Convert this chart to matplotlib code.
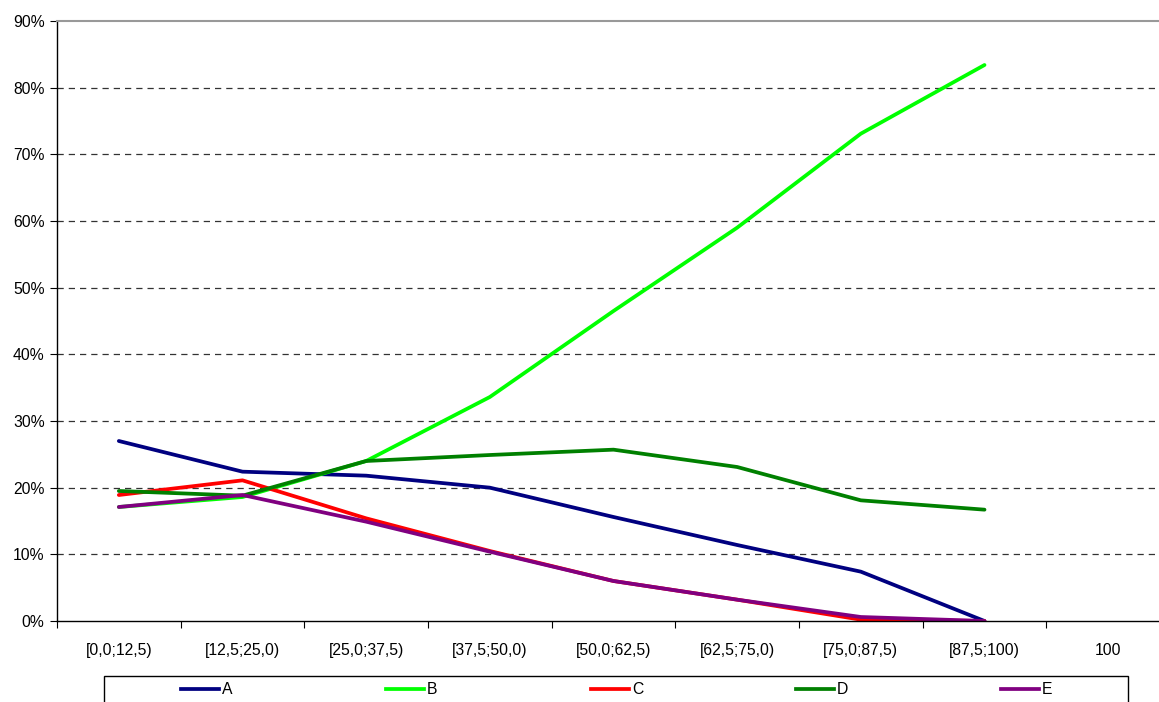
import matplotlib.pyplot as plt
import numpy as np
from matplotlib.lines import Line2D
from matplotlib.patches import Rectangle

plt.rcParams['font.family'] = ['Liberation Sans', 'DejaVu Sans']

categories = ["[0,0;12,5)", "[12,5;25,0)", "[25,0;37,5)", "[37,5;50,0)", "[50,0;62,5)",
              "[62,5;75,0)", "[75,0;87,5)", "[87,5;100)", "100"]
nan = np.nan
series_names = ["A", "B", "C", "D", "E"]
series_a = [27.0, 22.4, 21.8, 20.0, 15.6, 11.4, 7.4, 0.0, nan]
series_b = [17.1, 18.6, 24.0, 33.6, 46.5, 59.0, 73.1, 83.4, nan]
series_c = [18.9, 21.1, 15.4, 10.5, 6.0, 3.2, 0.2, 0.0, nan]
series_d = [19.5, 18.8, 24.0, 24.9, 25.7, 23.1, 18.1, 16.7, nan]
series_e = [17.1, 18.9, 14.9, 10.4, 6.0, 3.2, 0.6, 0.0, nan]
colors = ["#000080", "#00FF00", "#FF0000", "#008000", "#800080"]
yticks = [0, 10, 20, 30, 40, 50, 60, 70, 80, 90]

fs = 11.3
lw = 2.7

fig = plt.figure(figsize=(11.59, 7.02), dpi=100)
ax = fig.add_axes([57 / 1159, 1 - 621 / 702, (1170 - 57) / 1159, 600 / 702])

x = np.arange(len(categories))
all_series = [series_a, series_b, series_c, series_d, series_e]
for name, vals, col in zip(series_names, all_series, colors):
    ax.plot(x, vals, color=col, linewidth=lw, label=name, solid_capstyle='round')

ax.set_xlim(-0.5, len(categories) - 0.5)
ax.set_ylim(0, 90)

# grid lines (dashed), top one solid
for v in yticks[1:-1]:
    ax.axhline(v, color='#333333', linestyle=(0, (5, 4)), linewidth=0.9, zorder=0)
ax.spines['top'].set_color('#999999')
ax.spines['top'].set_linewidth(1.5)
ax.spines['right'].set_visible(False)
ax.spines['left'].set_linewidth(1.0)
ax.spines['bottom'].set_linewidth(1.0)

ax.set_yticks(yticks)
ax.set_yticklabels([f"{v}%" for v in yticks], fontsize=fs)
ax.tick_params(axis='y', direction='out', length=5, width=0.8, pad=4)

# category labels between boundary ticks
ax.set_xticks(np.arange(len(categories) + 1) - 0.5)
ax.set_xticklabels([])
ax.set_xticks(x, minor=True)
ax.set_xticklabels(categories, minor=True, fontsize=fs)
ax.tick_params(axis='x', which='major', direction='out', length=5, width=0.8)
ax.tick_params(axis='x', which='minor', length=0, pad=16)

# legend box at the bottom (cut off by the figure edge)
fig.add_artist(Rectangle((104 / 1159, -0.05), (1128 - 104) / 1159, 0.05 + (702 - 676) / 702,
                         transform=fig.transFigure, fill=False, edgecolor='black', linewidth=1.0))
ly = 1 - 689 / 702
for i, (name, col) in enumerate(zip(series_names, colors)):
    x0 = 181 + i * 205
    fig.add_artist(Line2D([x0 / 1159, (x0 + 38) / 1159], [ly, ly], transform=fig.transFigure,
                          color=col, linewidth=lw))
    fig.text((x0 + 41) / 1159, ly, name, fontsize=fs, va='center', ha='left')

fig.savefig("out.png", dpi=100)
plt.close()
